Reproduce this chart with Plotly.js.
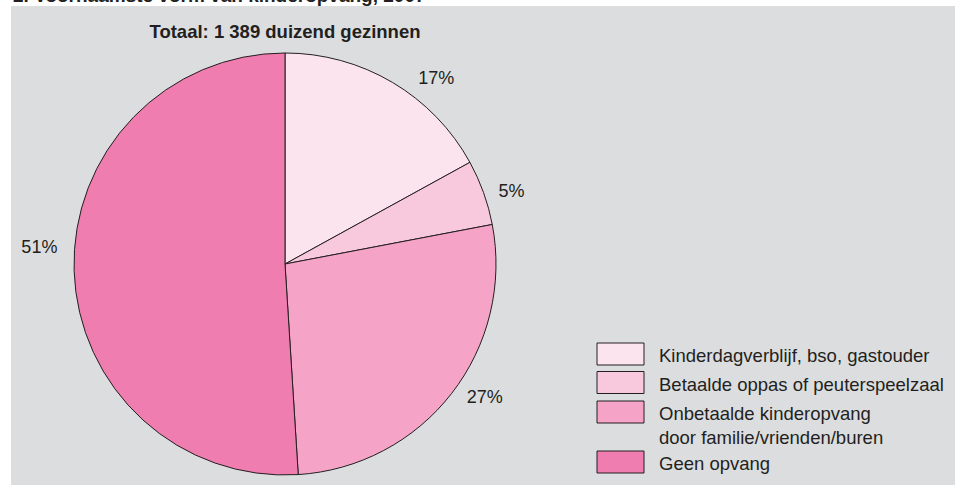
<!DOCTYPE html>
<html>
<head>
<meta charset="utf-8">
<script src="https://cdn.plot.ly/plotly-3.0.1.min.js"></script>
<style>
html,body{margin:0;padding:0;background:#fff;}
#chart{width:957px;height:485px;}
</style>
</head>
<body>
<div id="chart"></div>
<script>
const categories = [
  "Kinderdagverblijf, bso, gastouder",
  "Betaalde oppas of peuterspeelzaal",
  "Onbetaalde kinderopvang<br>door familie/vrienden/buren",
  "Geen opvang"
];
const shares = [17, 5, 27, 51];
const sliceColors = ["#fce4ee", "#f8c9dd", "#f5a3c7", "#f07db0"];
const labelTemplates = [
  "&nbsp;<br>&nbsp;&nbsp;&nbsp;%{percent:.0%}",
  "&nbsp;&nbsp;%{percent:.0%}",
  "&nbsp;&nbsp;%{percent:.0%}",
  "%{percent:.0%}<br>&nbsp;<br>&nbsp;"
];
const chartTitle = "Totaal: 1 389 duizend gezinnen";
const headerText = "2. Voornaamste vorm van kinderopvang, 2007";

const W = 957, H = 485;
const px = v => v / W;
const py = v => 1 - v / H;
const FONT = "Arial, 'Liberation Sans', sans-serif";
const INK = "#231f20";

const trace = {
  type: "pie",
  labels: categories,
  values: shares,
  sort: false,
  direction: "clockwise",
  rotation: 0,
  marker: { colors: sliceColors, line: { color: INK, width: 1 } },
  textinfo: "percent",
  textposition: "outside",
  texttemplate: labelTemplates,
  outsidetextfont: { family: FONT, size: 18, color: INK },
  hoverinfo: "label+percent",
  domain: { x: [px(74), px(496)], y: [py(475), py(53)] },
  automargin: false
};

const layout = {
  width: W, height: H,
  margin: { l: 0, r: 0, t: 0, b: 0 },
  paper_bgcolor: "#ffffff",
  font: { family: FONT, color: INK },
  title: {
    text: "<b>" + chartTitle + "</b>",
    font: { size: 18.5, color: INK },
    x: px(285), xanchor: "center",
    y: py(32), yanchor: "middle", yref: "container", xref: "container"
  },
  shapes: [{
    type: "rect", xref: "paper", yref: "paper", layer: "below",
    x0: px(11), x1: px(955), y0: 0, y1: py(6),
    fillcolor: "#dcdddf", line: { width: 0 }
  }],
  annotations: [{
    text: "<b>" + headerText + "</b>",
    xref: "paper", yref: "paper", x: px(11), xanchor: "left",
    y: py(8), yanchor: "bottom", showarrow: false,
    font: { size: 19, color: INK }
  }],
  showlegend: true,
  legend: {
    x: px(619), xanchor: "left", y: py(339), yanchor: "top",
    bgcolor: "rgba(0,0,0,0)", valign: "middle", traceorder: "normal",
    font: { size: 18.5, color: INK }
  }
};

Plotly.newPlot("chart", [trace], layout, { displayModeBar: false, staticPlot: true }).then(gd => {
  gd.querySelectorAll(".legend [clip-path]").forEach(el => el.removeAttribute("clip-path"));
  const legendEl = gd.querySelector(".legend");
  if (legendEl) legendEl.removeAttribute("clip-path");
  const items = gd.querySelectorAll(".legend .traces");
  // absolute text-centre rows of the reference legend (first line of each item)
  const rowCentres = [355, 383.5, 413, 463];
  const lineHalf = 18.5 * 1.3 / 2;
  items.forEach((g, i) => {
    const ctm = g.parentNode.getCTM();
    const baseX = ctm ? ctm.e : 0;
    const baseY = ctm ? ctm.f : 0;
    const nLines = (g.querySelector("text.legendtext") || g).querySelectorAll("tspan.line").length || 1;
    const extra = (nLines - 1) * lineHalf;
    const originY = rowCentres[i] + extra;
    const originX = 619;
    g.setAttribute("transform", "translate(" + (originX - baseX) + "," + (originY - baseY) + ")");
    const top = -12 - extra, bot = 10 - extra;
    g.querySelectorAll(".legendpoints path").forEach(p => {
      p.setAttribute("d", "M5," + bot + "H-42V" + top + "H5Z");
    });
  });
});
</script>
</body>
</html>
